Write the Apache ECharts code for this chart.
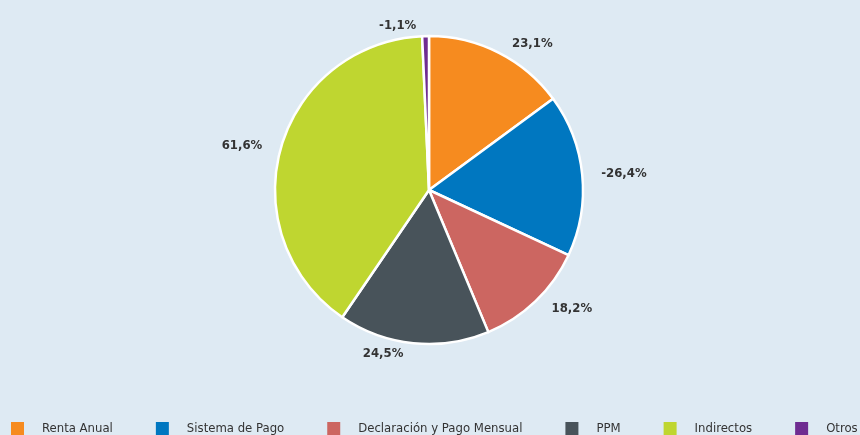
<!DOCTYPE html>
<html>
<head>
<meta charset="utf-8">
<script src="https://cdn.jsdelivr.net/npm/echarts@6/dist/echarts.min.js"></script>
<style>
html, body { margin: 0; padding: 0; background: #deeaf3; }
#main { width: 860px; height: 435px; }
</style>
</head>
<body>
<div id="main"></div>
<script>
var categories = ['Renta Anual', 'Sistema de Pago', 'Declaración y Pago Mensual', 'PPM', 'Indirectos', 'Otros'];
var variation = [23.1, -26.4, 18.2, 24.5, 61.6, -1.1];
var colors = ['#f68b1f', '#0077c0', '#cc6661', '#48535a', '#bfd630', '#6f2c91'];

var chart = echarts.init(document.getElementById('main'));

var pieData = categories.map(function (name, i) {
    return { name: name, value: Math.abs(variation[i]), raw: variation[i] };
});

var font = '"DejaVu Sans Condensed", "DejaVu Sans", sans-serif';

var option = {
    backgroundColor: '#deeaf3',
    color: colors,
    legend: {
        data: categories,
        left: 6,
        top: 417,
        width: 1200,
        icon: 'rect',
        itemWidth: 13,
        itemHeight: 13,
        itemGap: 43,
        itemStyle: { borderWidth: 0 },
        textStyle: {
            fontFamily: font,
            fontSize: 13,
            color: '#333',
            padding: [0, 0, 0, 13]
        }
    },
    series: [
        {
            type: 'pie',
            center: [429, 190],
            radius: 154,
            startAngle: 90,
            animation: false,
            itemStyle: {
                borderColor: '#ffffff',
                borderWidth: 2.5
            },
            label: {
                show: true,
                position: 'outside',
                fontFamily: font,
                fontWeight: 'bold',
                fontSize: 13,
                color: '#333',
                formatter: function (p) {
                    return p.data.raw.toFixed(1).replace('.', ',') + '%';
                }
            },
            labelLine: {
                show: false,
                length: 10,
                length2: 4
            },
            emphasis: { scale: false },
            data: pieData
        }
    ]
};

chart.setOption(option);
</script>
</body>
</html>
